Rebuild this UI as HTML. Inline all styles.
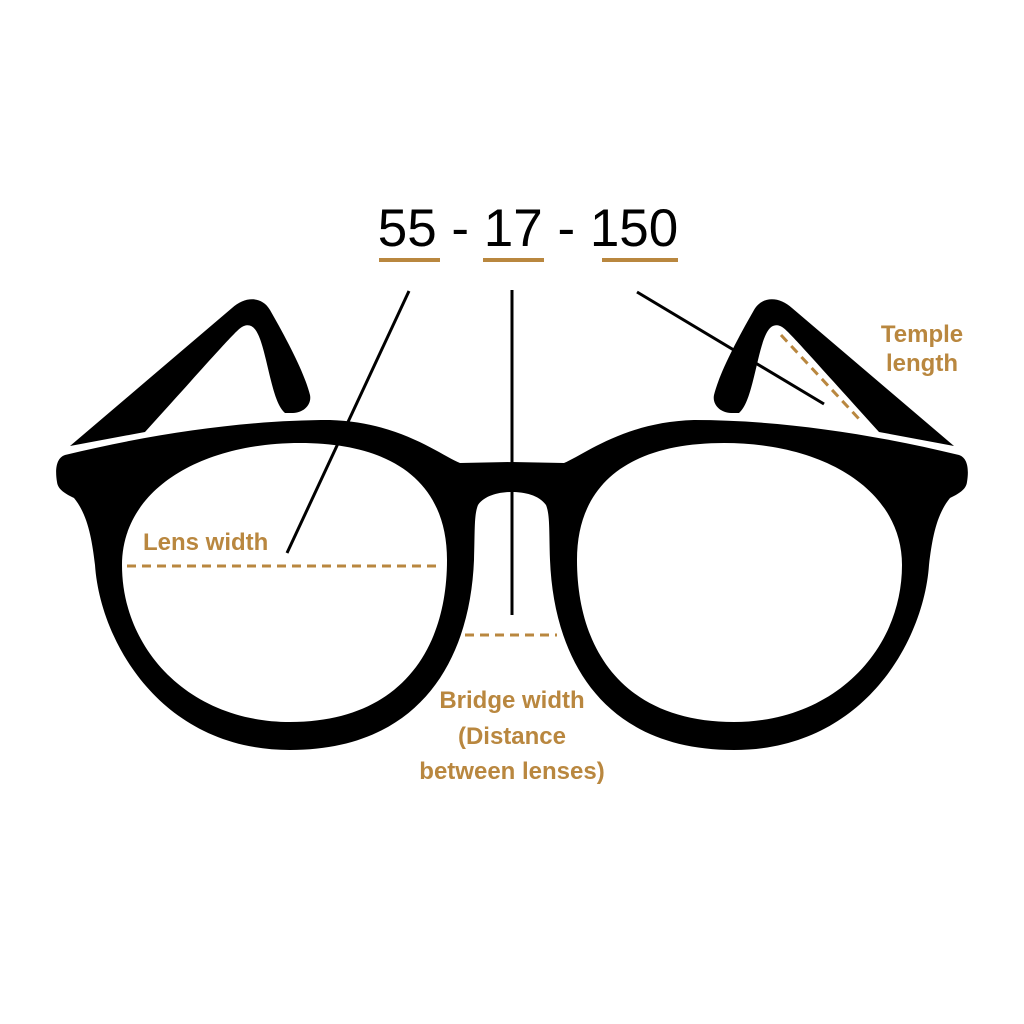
<!DOCTYPE html>
<html><head><style>html,body{margin:0;padding:0;background:#fff}svg{display:block}</style></head><body>
<svg width="1024" height="1024" viewBox="0 0 1024 1024" xmlns="http://www.w3.org/2000/svg">
<g id="half">
<path d="M70,446 L232,308 C245,296 262,296 270,310 C290,345 305,375 310,395 C312,405 303,413 293,413 L285,413 C276,405 272,385 266,360 C260,335 255,322 244,326 C238,328 230,338 145,432 Z" fill="#000"/>
<path d="M512,462 L460,463 C440,455 400,422 330,420 C250,420 160,432 65,455 C56,458 55,470 57,482 C58,490 66,494 74,498 C88,515 92,540 95,565 C100,640 160,750 290,750 C420,750 470,660 474,560 C475,530 474,515 478,505 C485,495 500,492 512,492 Z
M300,443 C200,443 122,490 122,565 C122,650 190,722 290,722 C400,722 447,650 447,560 C447,480 390,443 300,443 Z" fill="#000" fill-rule="evenodd"/>
</g>
<use href="#half" transform="translate(1024,0) scale(-1,1)"/>
<text x="528" y="246" font-family="Liberation Sans, sans-serif" font-size="53" text-anchor="middle" fill="#000">55 - 17 - 150</text>
<g stroke="#b9873f" stroke-width="4">
<line x1="379" y1="260" x2="440" y2="260"/>
<line x1="483" y1="260" x2="544" y2="260"/>
<line x1="602" y1="260" x2="678" y2="260"/>
</g>
<g stroke="#000" stroke-width="3">
<line x1="409" y1="291" x2="287" y2="553"/>
<line x1="512" y1="290" x2="512" y2="615"/>
<line x1="637" y1="292" x2="824" y2="404"/>
</g>
<g stroke="#b9873f" stroke-width="3" stroke-dasharray="9,6">
<line x1="127" y1="566" x2="440" y2="566"/>
<line x1="465" y1="635" x2="557" y2="635"/>
<line x1="781" y1="335" x2="860" y2="420"/>
</g>
<g font-family="Liberation Sans, sans-serif" font-size="24" font-weight="bold" fill="#b9873f">
<text x="143" y="550">Lens width</text>
<text x="512" y="708" text-anchor="middle">Bridge width</text>
<text x="512" y="744" text-anchor="middle">(Distance</text>
<text x="512" y="779" text-anchor="middle">between lenses)</text>
<text x="922" y="342" text-anchor="middle">Temple</text>
<text x="922" y="371" text-anchor="middle">length</text>
</g>
</svg>
</body></html>
